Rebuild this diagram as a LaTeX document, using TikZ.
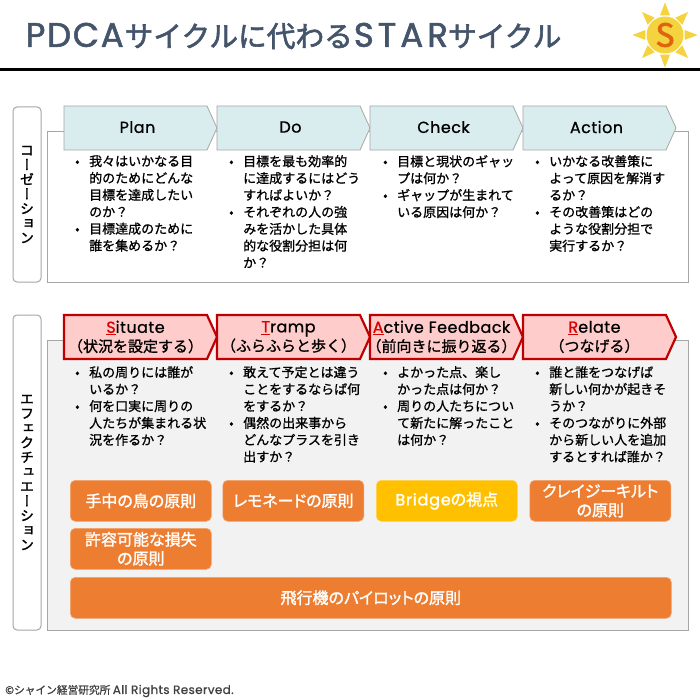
\documentclass[tikz,border=0pt]{standalone}
\usepackage{fontspec}
\setmainfont[FakeBold=1.0]{Noto Sans CJK JP}
\newfontfamily\vertfont[RawFeature=+vert,FakeBold=1.6]{Noto Sans CJK JP}
\newfontfamily\headfont[FakeBold=2.0]{Noto Sans CJK JP}
\newfontfamily\boxfont[RawFeature=+palt,FakeBold=1.6]{Noto Sans CJK JP}
\newfontfamily\latinfont[LetterSpace=3,FakeBold=0.8]{Poppins}
\newfontfamily\latinhead[LetterSpace=5,FakeBold=1.6]{Poppins}
\newfontfamily\latinwide[LetterSpace=12,FakeBold=1.6]{Poppins}
\usetikzlibrary{calc,positioning,shapes.symbols,shapes.geometric}
\definecolor{slate}{HTML}{44546A}
\definecolor{panelline}{HTML}{A6A6A6}
\definecolor{panelgray}{HTML}{F2F2F2}
\definecolor{palecyan}{HTML}{D9ECEE}
\definecolor{darkred}{HTML}{C00000}
\definecolor{palered}{HTML}{FFCCCC}
\definecolor{orangebox}{HTML}{ED7D31}
\definecolor{goldbox}{HTML}{FFC000}
\definecolor{sunyellow}{HTML}{F5D33F}
\definecolor{sunorange}{HTML}{E0640F}
\newcommand{\pnt}{\makebox[15pt][l]{\hspace{1pt}\textbullet}}
\newcommand{\cnt}{\hspace*{15pt}}
\newcommand{\pd}[1]{\raisebox{2pt}{\hspace{4pt}\latinfont #1}}
\newcommand{\lat}[1]{{\fontsize{16}{19}\selectfont\latinfont #1}}
\newcommand{\initial}[1]{\textcolor{red!85!black}{\underline{#1}}}
\newcommand{\wide}[1]{\makebox[120pt][c]{#1}}
\tikzset{
  x=1pt,y=-1pt,
  side/.style={draw=panelline,line width=1pt,rounded corners=4pt,fill=white,minimum width=28pt,
    align=center,inner sep=0pt,font=\fontsize{14}{14.6}\selectfont\vertfont},
  panel/.style={draw=panelline,line width=1pt,anchor=north west,inner sep=0pt},
  chev/.style={signal,signal to=east,signal pointer angle=131,inner sep=0pt,outer sep=0pt,
    minimum width=153pt,minimum height=44pt,align=center},
  pdca/.style={chev,draw=panelline,line width=.8pt,fill=palecyan,font=\fontsize{16}{19}\selectfont},
  star/.style={chev,draw=darkred,line width=2.2pt,fill=palered,font=\fontsize{15}{19}\selectfont},
  points/.style={anchor=north west,inner sep=0pt,align=left,font=\fontsize{13}{16.9}\selectfont},
  rule/.style={draw=orangebox!70!white,line width=.6pt,fill=orangebox,rounded corners=5pt,anchor=north west,
    minimum width=141pt,minimum height=41pt,inner sep=0pt,align=center,text=white,
    font=\fontsize{16}{19}\selectfont\boxfont},
  ray/.style={fill=sunyellow,isosceles triangle,isosceles triangle apex angle=42,
    minimum size=10pt,inner sep=0pt}
}
\begin{document}
\begin{tikzpicture}
  \useasboundingbox (0,0) rectangle (700,700);
  \fill[white] (0,0) rectangle (700,700);

  \node [anchor=west,inner sep=0pt,text=slate,font=\fontsize{28.7}{32}\selectfont\headfont] (title) at (25.5,36) {{\fontsize{34}{32}\selectfont\latinhead PDCA}\hspace{1pt}サイクルに代わる\hspace{1pt}{\fontsize{34}{32}\selectfont\latinwide STAR}サイクル};
  \coordinate (ruleleft) at (0,70);
  \coordinate (ruleright) at (700,70);
  \draw [line width=3pt] (ruleleft) -- (ruleright);

  \node [circle,fill=sunyellow,minimum size=37pt,inner sep=0pt] (sun) at (665,35) {};
  \foreach \a in {0,45,...,315}
    \node [ray,rotate=\a] (ray\a) at ($(sun)+(\a:23pt)$) {};
  \node [text=sunorange,inner sep=0pt,font=\fontsize{32}{34}\selectfont\headfont] (suns) at (sun) {S};

  \node [side,minimum height=175pt] (conv) at (27,194.5) {コ\\ー\\ゼ\\ー\\シ\\ョ\\ン};
  \node [panel,fill=white,minimum width=641pt,minimum height=151pt] (top) at (47,131) {};

  \node [pdca] (plan) at (135.5,128) {\pd{Plan}};
  \node [pdca,right=0pt of plan] (dodo) {\pd{Do}};
  \node [pdca,right=0pt of dodo] (check) {\pd{Check}};
  \node [pdca,right=0pt of check] (action) {\pd{Action}};

  \node [points] (planq) at (74,155) {\pnt 我々はいかなる目\\\cnt 的のためにどんな\\\cnt 目標を達成したい\\\cnt のか？\\\pnt 目標達成のために\\\cnt 誰を集めるか？};
  \node [points] (doq) at (228,155) {\pnt 目標を最も効率的\\\cnt に達成するにはどう\\\cnt すればよいか？\\\pnt それぞれの人の強\\\cnt みを活かした具体\\\cnt 的な役割分担は何\\\cnt か？};
  \node [points] (checkq) at (382,155) {\pnt 目標と現状のギャッ\\\cnt プは何か？\\\pnt ギャップが生まれて\\\cnt いる原因は何か？};
  \node [points] (actionq) at (534,155) {\pnt いかなる改善策に\\\cnt よって原因を解消す\\\cnt るか？\\\pnt その改善策はどの\\\cnt ような役割分担で\\\cnt 実行するか？};

  \node [side,minimum height=315pt] (effect) at (27,472.5) {エ\\フ\\ェ\\ク\\チ\\ュ\\エ\\ー\\シ\\ョ\\ン};
  \node [panel,fill=panelgray,minimum width=641pt,minimum height=290pt] (bottom) at (47,340) {};

  \node [star] (situate) at (135.5,337) {\lat{\initial{S}ituate}\\（状況を設定する）};
  \node [star,right=0pt of situate] (tramp) {\lat{\initial{T}ramp}\\（ふらふらと歩く）};
  \node [star,right=0pt of tramp] (active) {\wide{\lat{\initial{A}ctive Feedback}}\\\wide{（前向きに振り返る）}};
  \node [star,right=0pt of active] (relate) {\lat{\initial{R}elate}\\（つなげる）};

  \node [points] (situateq) at (74,366) {\pnt 私の周りには誰が\\\cnt いるか？\\\pnt 何を口実に周りの\\\cnt 人たちが集まれる状\\\cnt 況を作るか？};
  \node [points] (trampq) at (228,366) {\pnt 敢えて予定とは違う\\\cnt ことをするならば何\\\cnt をするか？\\\pnt 偶然の出来事から\\\cnt どんなプラスを引き\\\cnt 出すか？};
  \node [points] (activeq) at (382,366) {\pnt よかった点、楽し\\\cnt かった点は何か？\\\pnt 周りの人たちについ\\\cnt て新たに解ったこと\\\cnt は何か？};
  \node [points] (relateq) at (534,366) {\pnt 誰と誰をつなげば\\\cnt 新しい何かが起きそ\\\cnt うか？\\\pnt そのつながりに外部\\\cnt から新しい人を追加\\\cnt するとすれば誰か？};

  \node [rule] (bird) at (70,480) {手中の鳥の原則};
  \node [rule] (lemon) at (222.5,480) {レモネードの原則};
  \node [rule,fill=goldbox,draw=goldbox!70!white] (bridge) at (376,480) {{\latinhead Bridge}の視点};
  \node [rule] (quilt) at (529.5,480) {クレイジーキルト\\の原則};
  \node [rule] (loss) at (70,528) {許容可能な損失\\の原則};
  \node [rule,minimum width=601pt] (pilot) at (70,577) {飛行機のパイロットの原則};

  \node [anchor=west,inner sep=0pt,text=black!75,font=\fontsize{10.7}{13}\selectfont] (copy) at (5,691) {©シャイン経営研究所 {\fontsize{12}{13}\selectfont\latinfont All Rights Reserved.}};
\end{tikzpicture}
\end{document}
